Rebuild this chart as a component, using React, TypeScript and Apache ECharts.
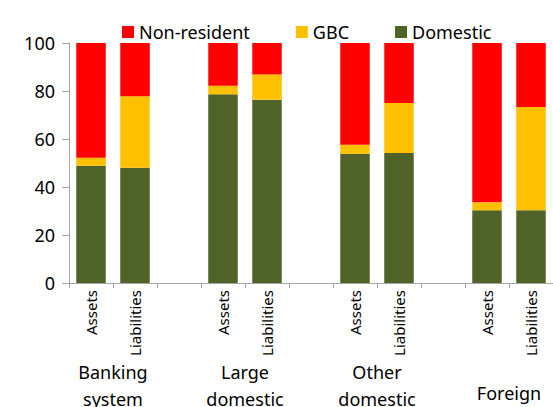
import React, { useEffect, useRef } from "react";
import * as echarts from "echarts";

const categories = ["Assets", "Liabilities", "", "Assets", "Liabilities", "", "Assets", "Liabilities", "", "Assets", "Liabilities"];
const groupLabels = ["", "Banking\nsystem", "", "", "Large\ndomestic", "", "", "Other\ndomestic", "", "", "Foreign", ""];
const domestic = [48.9, 48.0, null, 78.6, 76.4, null, 53.8, 54.2, null, 30.3, 30.3];
const gbc = [3.3, 29.8, null, 3.6, 10.5, null, 3.8, 20.8, null, 3.3, 43.0];
const nonResident = [47.8, 22.2, null, 17.8, 13.1, null, 42.4, 25.0, null, 66.4, 26.7];
const yTicks = { min: 0, max: 100, interval: 20 };

const FONT = "'Noto Sans', 'Open Sans', sans-serif";

export default function App() {
  const ref = useRef<HTMLDivElement>(null);
  useEffect(() => {
    if (!ref.current) return;
    const chart = echarts.init(ref.current, undefined, { renderer: "svg" });
    chart.setOption({
      animation: false,
      textStyle: { fontFamily: FONT },
      legend: {
        data: ["Non-resident", "GBC", "Domestic"],
        top: 18,
        left: 117,
        itemWidth: 12,
        itemHeight: 12,
        itemGap: 46,
        icon: "rect",
        textStyle: { fontSize: 18, color: "#000", fontFamily: FONT },
      },
      grid: { left: 69, right: 0, top: 43, bottom: 124, containLabel: false, outerBoundsMode: "none" },
      xAxis: [
        {
          type: "category",
          data: categories,
          axisLine: { lineStyle: { color: "#a6a6a6", width: 1 } },
          axisTick: { show: true, length: 5, lineStyle: { color: "#a6a6a6" } },
          axisLabel: {
            rotate: 90,
            interval: 0,
            fontSize: 15,
            color: "#000",
            margin: 7,
            fontFamily: FONT,
          },
        },
        {
          type: "category",
          data: groupLabels,
          boundaryGap: false,
          position: "bottom",
          axisLine: { show: false },
          axisTick: { show: false },
          axisLabel: {
            interval: 0,
            fontSize: 18,
            lineHeight: 27,
            color: "#000",
            margin: 75,
            fontFamily: FONT,
            formatter: (v: string) => (v.indexOf("\n") < 0 && v ? "{f|" + v + "}" : v),
            rich: { f: { fontSize: 18, lineHeight: 70, color: "#000", fontFamily: FONT } },
          },
        },
      ],
      yAxis: {
        type: "value",
        min: yTicks.min,
        max: yTicks.max,
        interval: yTicks.interval,
        axisLine: { show: true, lineStyle: { color: "#a6a6a6" } },
        axisTick: { show: true, length: 7, lineStyle: { color: "#a6a6a6" } },
        splitLine: { show: false },
        axisLabel: { fontSize: 18, color: "#000", margin: 14, fontFamily: FONT },
      },
      series: [
        {
          name: "Domestic",
          type: "bar",
          stack: "total",
          data: domestic,
          barWidth: "67%",
          itemStyle: { color: "#4F6228" },
        },
        {
          name: "GBC",
          type: "bar",
          stack: "total",
          data: gbc,
          barWidth: "67%",
          itemStyle: { color: "#FFC000" },
        },
        {
          name: "Non-resident",
          type: "bar",
          stack: "total",
          data: nonResident,
          barWidth: "67%",
          itemStyle: { color: "#FF0000" },
        },
      ],
    });
    return () => chart.dispose();
  }, []);
  return (
    <div
      ref={ref}
      style={{ position: "fixed", left: 0, top: 0, width: 553, height: 407, background: "#fff" }}
    />
  );
}
